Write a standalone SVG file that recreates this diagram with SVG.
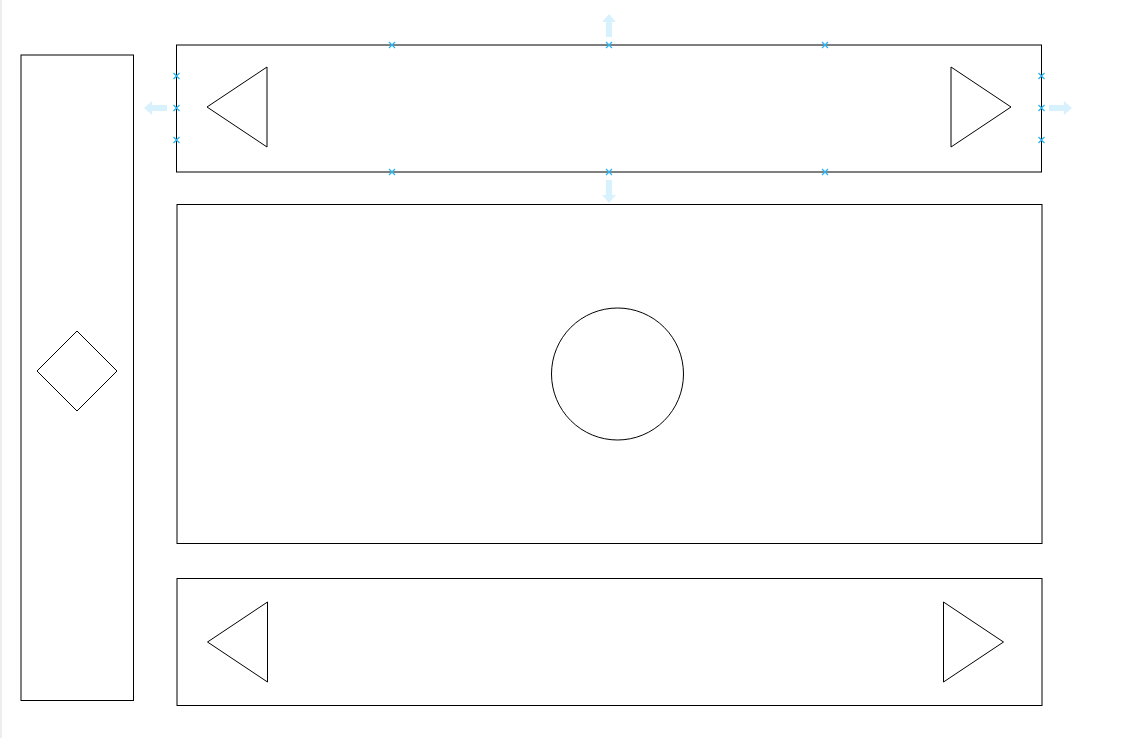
<svg xmlns="http://www.w3.org/2000/svg" width="1145" height="738" viewBox="0 0 1145 738">
<style>
.s{fill:#fff;stroke:#000;stroke-width:1}
.h{fill:none;stroke:#29b6f2;stroke-width:1.3}
.a{fill:#29b6f2;fill-opacity:0.18;stroke:none}
</style>
<defs>
<path id="hx" d="M-3,-3L3,3M3,-3L-3,3" class="h"/>
<path id="au" d="M0,-12L7,-4L3,-4L3,11L-3,11L-3,-4L-7,-4Z" class="a"/>
</defs>
<rect x="0" y="0" width="1145" height="738" fill="#fff"/>
<line x1="1" y1="0" x2="1" y2="738" stroke="#eee" stroke-width="2"/>
<g id="left-panel">
<rect class="s" x="21" y="55" width="112.5" height="645.5"/>
<polygon class="s" points="37,371 77,331 117,371 77,411"/>
</g>
<g id="top-panel">
<rect class="s" x="176.5" y="45" width="865" height="127"/>
<polygon class="s" points="207,107 267,67 267,147"/>
<polygon class="s" points="951,67 1011,107 951,147"/>
</g>
<g id="middle-panel">
<rect class="s" x="177" y="204.5" width="865" height="339"/>
<circle class="s" cx="617.5" cy="374" r="66"/>
</g>
<g id="bottom-panel">
<rect class="s" x="177" y="578.5" width="865" height="127"/>
<polygon class="s" points="207.5,642 267.5,602 267.5,682"/>
<polygon class="s" points="943.5,602 1003.5,642 943.5,682"/>
</g>
<g id="selection-handles">
<use href="#hx" x="392" y="45"/><use href="#hx" x="609" y="45"/><use href="#hx" x="825" y="45"/>
<use href="#hx" x="392" y="172"/><use href="#hx" x="609" y="172"/><use href="#hx" x="825" y="172"/>
<use href="#hx" x="176.5" y="76"/><use href="#hx" x="176.5" y="108"/><use href="#hx" x="176.5" y="140"/>
<use href="#hx" x="1041.5" y="76"/><use href="#hx" x="1041.5" y="108"/><use href="#hx" x="1041.5" y="140"/>
<use href="#au" transform="translate(609,26)"/>
<use href="#au" transform="translate(609,191) rotate(180)"/>
<use href="#au" transform="translate(156,108) rotate(-90)"/>
<use href="#au" transform="translate(1060,108) rotate(90)"/>
</g>
</svg>
